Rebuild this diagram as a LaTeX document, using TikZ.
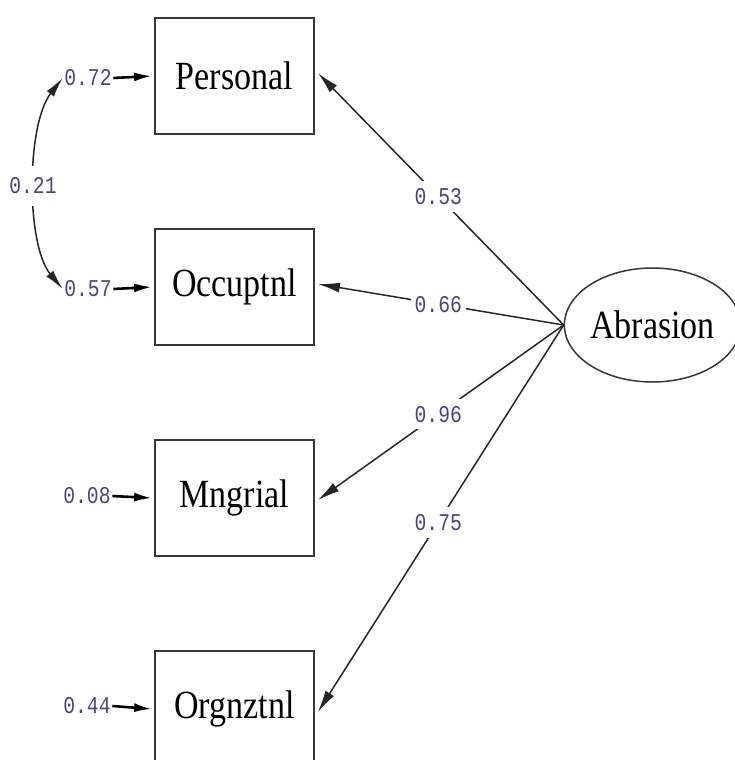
\documentclass[tikz,border=0pt]{standalone}
\usepackage{fontspec}
\setmainfont{Liberation Serif}
\newfontfamily\boxfont[FakeStretch=0.85]{Liberation Serif}
\newfontfamily\numfont[FakeStretch=0.82]{Liberation Mono}
\usetikzlibrary{arrows.meta,shapes.geometric}
\definecolor{numcol}{RGB}{75,70,115}
\definecolor{boxline}{RGB}{55,55,55}
\begin{document}
\begin{tikzpicture}[x=1pt,y=-1pt,
  obs/.style={draw=boxline, line width=1.8pt, minimum width=159pt, minimum height=116pt, inner sep=0pt, font=\boxfont\fontsize{40}{40}\selectfont},
  lat/.style={ellipse, draw=boxline, line width=1.5pt, minimum width=159pt, minimum height=114pt, inner sep=0pt, font=\boxfont\fontsize{40}{40}\selectfont},
  num/.style={font=\numfont\fontsize{24}{24}\selectfont, text=numcol, inner sep=1.5pt},
  lbl/.style={num, fill=white, inner xsep=4pt, inner ysep=7pt},
  pathln/.style={line width=1.5pt, draw=black!85, -{Latex[length=22pt,width=10pt]}},
  errarr/.style={line width=2.6pt, -{Latex[length=18pt,width=9pt]}},
  covln/.style={line width=1.5pt, draw=black!85, {Latex[length=20pt,width=9pt]}-{Latex[length=20pt,width=9pt]}},
]
\useasboundingbox (0,0) rectangle (735,760);
\clip (0,0) rectangle (735,760);
\node[obs] (p) at (234.5,76) {Personal};
\node[obs] (o) at (234.5,287) {Occuptnl};
\node[obs] (m) at (234.5,498) {Mngrial};
\node[obs] (g) at (234.5,709) {Orgnztnl};
\node[lat] (a) at (652.5,325) {Abrasion};

\node[num] (e1) at (88,78) {0.72};
\node[num] (e2) at (88,289) {0.57};
\node[num] (e3) at (87,496) {0.08};
\node[num] (e4) at (87,706) {0.44};

\draw[errarr] (e1.east) -- ([xshift=-2pt]p.west);
\draw[errarr] (e2.east) -- ([xshift=-2pt]o.west);
\draw[errarr] (e3.east) -- ([xshift=-2pt]m.west);
\draw[errarr] (e4.east) -- ([xshift=-2pt]g.west);

\draw[covln] (e1.west) .. controls (26,125) and (26,245) .. (e2.west);

\draw[pathln] (a.west) -- ([xshift=3pt,yshift=3pt]p.east);
\draw[pathln] (a.west) -- ([xshift=3pt,yshift=3pt]o.east);
\draw[pathln] (a.west) -- ([xshift=3pt,yshift=-2pt]m.east);
\draw[pathln] (a.west) -- ([xshift=3pt,yshift=-3pt]g.east);

\node[lbl, inner ysep=12pt] (c) at (33,186) {0.21};
\path (a.west) -- node[lbl, pos=0.51] (l1) {0.53} ([xshift=3pt,yshift=3pt]p.east);
\path (a.west) -- node[lbl, pos=0.51] (l2) {0.66} ([xshift=3pt,yshift=3pt]o.east);
\path (a.west) -- node[lbl, pos=0.51] (l3) {0.96} ([xshift=3pt,yshift=-2pt]m.east);
\path (a.west) -- node[lbl, pos=0.51] (l4) {0.75} ([xshift=3pt,yshift=-3pt]g.east);
\end{tikzpicture}
\end{document}
